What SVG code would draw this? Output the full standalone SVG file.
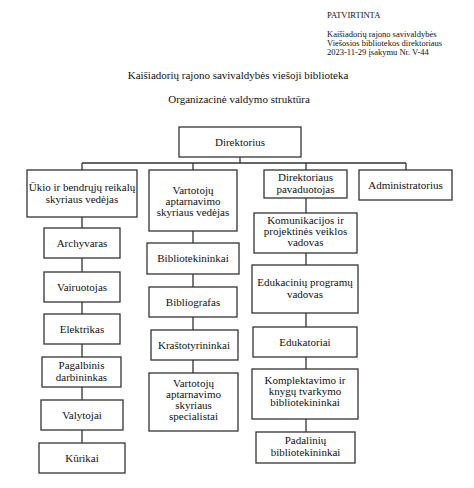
<svg xmlns="http://www.w3.org/2000/svg" width="474" height="488" viewBox="0 0 474 488">
<style>
text{font-family:"Liberation Serif","Times New Roman",serif;fill:#111}
.n rect{fill:#fff;stroke:#333;stroke-width:1.3}
.n text{font-size:11px;text-anchor:middle}
.hd{font-size:8.5px}
.tt{font-size:11px;text-anchor:middle}
#connectors path{fill:none;stroke:#333;stroke-width:1.3}
</style>
<rect width="474" height="488" fill="#fff"/>
<g id="header">
<text class="hd" x="327" y="18">PATVIRTINTA</text>
<text class="hd" x="327" y="37">Kaišiadorių rajono savivaldybės</text>
<text class="hd" x="327" y="46">Viešosios bibliotekos direktoriaus</text>
<text class="hd" x="327" y="55">2023-11-29 įsakymu Nr. V-44</text>
</g>
<g id="title">
<text class="tt" x="238" y="79">Kaišiadorių rajono savivaldybės viešoji biblioteka</text>
<text class="tt" x="239" y="103">Organizacinė valdymo struktūra</text>
</g>
<g id="connectors">
<path d="M240 157V163M82 163H406M82 163V170M193 163V170M306 163V170M406 163V170"/>
<path d="M82 217V228M82 258V272M82 302V314M82 344V357M82 387V400M82 430V443"/>
<path d="M193 231V243M193 274V287M193 317V330M193 360V373"/>
<path d="M306 198V213M306 253V265M306 313V327M306 357V369M306 419V432"/>
</g>
<g id="direktorius" class="n"><rect x="179" y="127" width="122" height="30"/><text x="240" y="146">Direktorius</text></g>
<g id="ukio" class="n"><rect x="27" y="170" width="110" height="47"/><text x="82" y="191">Ūkio ir bendrųjų reikalų</text><text x="82" y="203">skyriaus vedėjas</text></g>
<g id="vartotoju-vedejas" class="n"><rect x="149" y="170" width="88" height="61"/><text x="193" y="194">Vartotojų</text><text x="193" y="205">aptarnavimo</text><text x="193" y="216">skyriaus vedėjas</text></g>
<g id="pavaduotojas" class="n"><rect x="264" y="170" width="83" height="28"/><text x="305.5" y="181">Direktoriaus</text><text x="305.5" y="193">pavaduotojas</text></g>
<g id="administratorius" class="n"><rect x="359" y="170" width="93" height="30"/><text x="405.5" y="189">Administratorius</text></g>
<g id="archyvaras" class="n"><rect x="44" y="228" width="76" height="30"/><text x="82" y="247">Archyvaras</text></g>
<g id="vairuotojas" class="n"><rect x="44" y="272" width="76" height="30"/><text x="82" y="291">Vairuotojas</text></g>
<g id="elektrikas" class="n"><rect x="44" y="314" width="76" height="30"/><text x="82" y="333">Elektrikas</text></g>
<g id="pagalbinis" class="n"><rect x="42" y="357" width="79" height="30"/><text x="81.5" y="369">Pagalbinis</text><text x="81.5" y="381">darbininkas</text></g>
<g id="valytojai" class="n"><rect x="41" y="400" width="82" height="30"/><text x="82" y="419">Valytojai</text></g>
<g id="kurikai" class="n"><rect x="39" y="443" width="86" height="30"/><text x="82" y="462">Kūrikai</text></g>
<g id="bibliotekininkai" class="n"><rect x="147" y="243" width="92" height="31"/><text x="193" y="262">Bibliotekininkai</text></g>
<g id="bibliografas" class="n"><rect x="149" y="287" width="88" height="30"/><text x="193" y="306">Bibliografas</text></g>
<g id="krastotyrininkai" class="n"><rect x="151" y="330" width="87" height="30"/><text x="194" y="349">Kraštotyrininkai</text></g>
<g id="vartotoju-specialistai" class="n"><rect x="149" y="373" width="89" height="58"/><text x="193.5" y="387">Vartotojų</text><text x="193.5" y="398">aptarnavimo</text><text x="193.5" y="409">skyriaus</text><text x="193.5" y="420">specialistai</text></g>
<g id="komunikacijos" class="n"><rect x="254" y="213" width="103" height="40"/><text x="305.5" y="224">Komunikacijos ir</text><text x="305.5" y="235">projektinės veiklos</text><text x="305.5" y="246">vadovas</text></g>
<g id="edukaciniu" class="n"><rect x="252" y="265" width="106" height="48"/><text x="305" y="286">Edukacinių programų</text><text x="305" y="298">vadovas</text></g>
<g id="edukatoriai" class="n"><rect x="253" y="327" width="104" height="30"/><text x="305" y="346">Edukatoriai</text></g>
<g id="komplektavimo" class="n"><rect x="252" y="369" width="106" height="50"/><text x="305" y="384">Komplektavimo ir</text><text x="305" y="395">knygų tvarkymo</text><text x="305" y="406">bibliotekininkai</text></g>
<g id="padaliniu" class="n"><rect x="256" y="432" width="99" height="31"/><text x="305.5" y="444">Padalinių</text><text x="305.5" y="456">bibliotekininkai</text></g>
</svg>
